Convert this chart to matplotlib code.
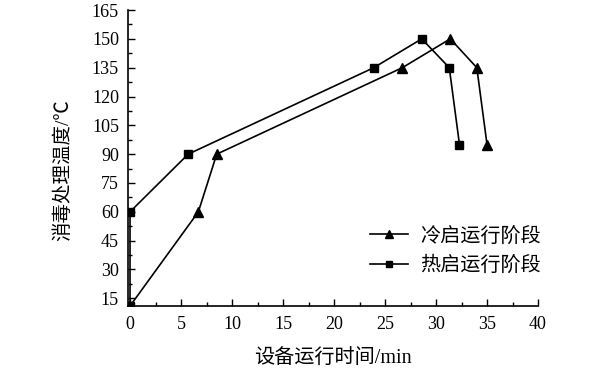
import matplotlib
matplotlib.use("Agg")
import matplotlib.pyplot as plt
from matplotlib.lines import Line2D
from matplotlib.ticker import MultipleLocator

plt.rcParams['font.family'] = ['Liberation Serif', 'Noto Sans CJK SC']
plt.rcParams['axes.unicode_minus'] = False

# Data
cold_x = [0, 6.7, 8.5, 26.7, 31.4, 34.0, 35.0]
cold_y = [11, 60, 90, 135, 150, 135, 95]
hot_x = [0, 0, 5.7, 23.9, 28.6, 31.3, 32.3]
hot_y = [11, 60, 90, 135, 150, 135, 95]
cold_label = "冷启运行阶段"
hot_label = "热启运行阶段"
x_label = "设备运行时间/min"
y_label = "消毒处理温度/℃"
x_ticks = [0, 5, 10, 15, 20, 25, 30, 35, 40]
y_ticks = [15, 30, 45, 60, 75, 90, 105, 120, 135, 150, 165]

fig = plt.figure(figsize=(6, 3.71), dpi=100)
ax = fig.add_axes([0.2133, 0.1752, 0.6834, 0.7978])

ax.plot(cold_x, cold_y, color='black', lw=1.2, marker='^', markersize=7.5)
ax.plot(hot_x, hot_y, color='black', lw=1.2, marker='s', markersize=5.5)

ax.set_xlim(-0.2, 40)
ax.set_ylim(11, 165)
ax.set_xticks(x_ticks)
ax.set_yticks(y_ticks)
ax.xaxis.set_minor_locator(MultipleLocator(2.5))
ax.yaxis.set_minor_locator(MultipleLocator(7.5))
ax.tick_params(which='major', direction='in', length=5, width=1, labelsize=13)
ax.tick_params(which='minor', direction='in', length=3, width=1)
ax.tick_params(axis='x', which='major', pad=7)
ax.tick_params(axis='y', which='major', pad=6.5)
for s in ['top', 'right']:
    ax.spines[s].set_visible(False)
for s in ['left', 'bottom']:
    ax.spines[s].set_linewidth(1.2)
ax.patch.set_alpha(0)

ax.set_xlabel(x_label, fontsize=14.5)
ax.xaxis.label.set_va('center')
ax.xaxis.set_label_coords(0.5, -0.18)
ax.set_ylabel(y_label, fontsize=14)
ax.yaxis.label.set_va('center')
ax.yaxis.set_label_coords(-0.158, 0.46)

handles = [
    Line2D([], [], color='black', lw=1.2, marker='^', markersize=6),
    Line2D([], [], color='black', lw=1.2, marker='s', markersize=4.5),
]
ax.legend(handles, [cold_label, hot_label], loc='center left',
          bbox_to_anchor=(0.59, 0.184), frameon=False, fontsize=14.5,
          handlelength=1.9, handletextpad=0.6, borderpad=0, borderaxespad=0,
          labelspacing=0.5)

fig.savefig("out.png", dpi=100)
